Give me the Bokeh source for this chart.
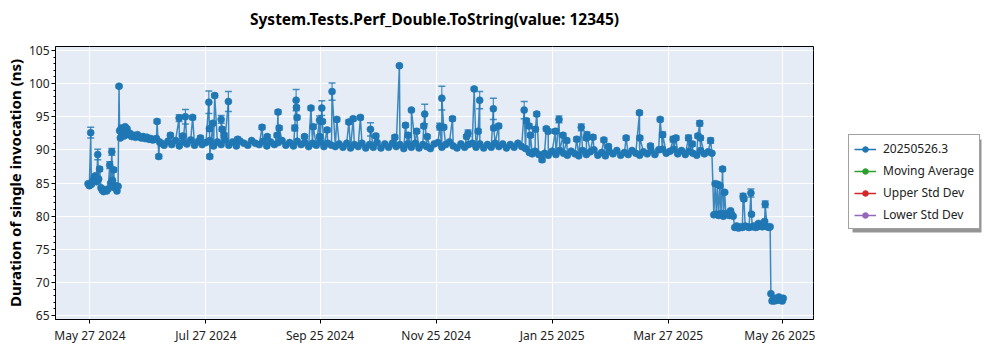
from datetime import datetime
import numpy as np
from bokeh.plotting import figure
from bokeh.layouts import column, row
from bokeh.models import (ColumnDataSource, Range1d, FixedTicker, SingleIntervalTicker,
                          DatetimeTickFormatter, Whisker, TeeHead, Legend, LegendItem, Label)
from bokeh.embed import file_html
from bokeh.resources import INLINE

TITLE = "System.Tests.Perf_Double.ToString(value: 12345)"
Y_LABEL = "Duration of single invocation (ns)"
SERIES = ["20250526.3", "Moving Average", "Upper Std Dev", "Lower Std Dev"]
SERIES_COLORS = ["#1f77b4", "#2ca02c", "#d62728", "#9467bd"]
START_DATE = "2024-05-27"   # day 0 of the day offsets below
X_TICK_DATES = ["2024-05-27", "2024-07-27", "2024-09-25", "2024-11-25",
                "2025-01-25", "2025-03-27", "2025-05-26"]

# ---- baseline runs (day offset from START_DATE, ns) ----
base_days = [
    -1.0, -0.3, 0.8, 1.5, 2.2, 2.9, 3.5, 4.6, 5.8, 6.5,
    7.2, 8.0, 8.8, 9.6, 10.9, 11.9, 12.9, 13.6, 14.2, 14.8,
    15.6, 16.0, 16.5, 17.0, 17.5, 18.0, 18.5, 19.0, 19.5, 20.3,
    21.0, 22.0, 23.0, 24.0, 25.0, 26.0, 27.0, 28.0, 29.0, 30.0,
    31.0, 32.0, 33.0, 34.0, 35.0, 36.6, 37.5,
    39, 41, 43, 45, 47, 49, 51, 53, 55, 57,
    59, 61, 63, 65, 67, 69, 71, 73, 75, 77,
    79, 81, 83, 85, 87, 89, 91, 93, 95, 97,
    99, 101, 103, 105, 107, 109, 111, 113, 115, 117,
    119, 121, 123, 125, 127,
    129, 131, 133, 135, 137, 139, 141, 143, 145, 147,
    149, 151, 153, 155, 157, 159, 161, 163, 165, 167,
    169, 171, 173, 175, 177, 179, 181, 183, 185, 187,
    189, 191, 193, 195, 197, 199, 201, 203, 205, 207,
    209, 211, 213, 215, 217, 219, 221, 223, 225, 227,
    229, 231, 232.5, 234, 236, 239,
    241, 243, 245, 247, 249, 251, 253, 255, 257, 259,
    261, 263, 265, 267, 269, 271, 273, 275, 277, 279,
    281, 283, 285, 287, 289, 291, 293, 295, 297, 299,
    301, 303, 305, 307, 309, 311, 313, 315, 317, 319,
    321, 323, 325, 327,
    328.0, 329.3, 330.5, 331.8, 333.0, 334.3, 335.3, 336.3, 337.3, 338.2,
    339.0, 340.0, 341.0, 342.0, 343.0, 344.5, 345.5, 346.5, 348.2, 349.0,
    350.0, 351.0, 352.5, 353.5, 354.3, 356.0, 357.0, 357.6,
    358.0, 358.6, 359.2, 359.8, 360.4, 361.0, 361.6, 362.2, 362.8, 363.4,
    364.0, 364.5,
]
base_vals = [
    84.9, 84.6, 84.8, 85.3, 85.9, 86.1, 85.2, 85.6, 84.3, 83.9,
    83.7, 84.0, 83.8, 84.1, 85.0, 85.4, 84.3, 84.6, 83.8, 84.5,
    92.9, 91.8, 93.3, 92.4, 93.0, 92.1, 93.5, 92.6, 93.2, 92.3,
    92.5, 92.0, 92.2, 91.9, 92.3, 92.0, 91.8, 92.0, 91.7, 91.9,
    91.6, 91.7, 91.5, 91.6, 91.7, 91.2, 91.0,
    90.7, 91.3, 90.8, 91.4, 90.6, 91.2, 90.9, 91.5, 90.7, 91.3,
    90.8, 91.1, 91.4, 90.6, 91.2, 90.8, 91.5, 90.7, 91.2, 90.6,
    91.3, 91.0, 90.7, 91.4, 91.0, 90.8, 91.3, 90.6, 91.2, 90.8,
    91.1, 91.4, 90.7, 91.1, 90.6, 91.3, 90.8, 91.1, 90.5, 91.0,
    90.7, 91.2, 90.5, 91.0, 90.7,
    90.5, 90.9, 90.4, 91.0, 90.3, 90.8, 90.5, 91.0, 90.3, 90.8,
    90.4, 91.1, 90.3, 90.9, 90.4, 91.0, 90.5, 90.8, 90.2, 90.9,
    90.4, 91.0, 90.3, 90.8, 90.5, 90.2, 90.9, 91.1, 90.4, 90.8,
    91.2, 90.6, 90.3, 90.9, 90.4, 90.8, 91.0, 90.4, 90.9, 90.3,
    90.8, 90.4, 91.0, 90.5, 90.9, 90.3, 90.8, 90.4, 91.0, 90.5,
    90.2, 89.6, 89.4, 89.8, 89.3, 89.5,
    89.2, 89.8, 89.3, 89.9, 89.5, 89.2, 89.8, 89.4, 89.1, 89.9,
    89.3, 89.7, 90.0, 89.2, 89.6, 89.1, 89.8, 89.4, 89.9, 89.2,
    89.6, 89.3, 89.9, 89.5, 89.2, 89.7, 89.4, 89.9, 89.3, 90.0,
    90.1, 89.5, 89.8, 90.1, 89.4, 89.9, 89.3, 89.8, 89.5, 89.2,
    89.9, 89.4, 89.7, 89.5,
    80.2, 80.3, 80.1, 80.4, 80.0, 80.4, 80.2, 80.1, 80.3, 80.0,
    78.3, 78.5, 78.2, 78.4, 78.3, 78.5, 78.4, 78.3, 78.4, 78.5,
    78.3, 78.4, 78.6, 78.4, 78.5, 78.4, 78.3, 78.4,
    68.3, 67.2, 67.5, 67.2, 67.6, 67.3, 67.4, 67.8, 67.3, 67.5,
    67.2, 67.6,
]

# ---- outlier runs with visible error bars ----
spike_days = [
    0.4, 4.1, 5.1, 10.4, 11.5, 12.5, 15.3, 35.3, 36.2,
    42.3, 46.9, 48.8, 50.2, 54.0, 58.1, 62.5, 62.8, 63.0, 64.6,
    65.6, 69.0, 69.5, 70.6, 72.8, 77.7, 90.5, 93.2, 98.4, 98.9,
    99.5, 107.7, 108.4, 108.6, 108.9, 112.8, 116.2, 117.4, 120.7, 120.8,
    121.9, 122.2, 124.7,
    127.3, 129.8, 136.1, 138.4, 142.2, 147.5, 150.3, 160.3, 162.7, 165.9,
    167.3, 169.0, 171.8, 175.5, 176.0, 177.3, 183.9, 185.0, 186.0, 190.6,
    198.0, 198.8, 202.0, 204.1, 204.9, 212.1, 212.3, 214.9, 228.3, 229.5,
    230.9, 231.6, 234.2, 234.9, 237.7,
    239.9, 240.9, 244.7, 246.6, 248.7, 250.7, 255.9, 258.3, 261.0, 261.3,
    264.5, 270.2, 272.6, 281.9, 288.9, 289.1, 294.7, 299.8, 301.1, 306.6,
    308.1, 314.7, 316.7, 319.6, 320.6, 321.0, 326.3,
    328.7, 329.9, 331.2, 332.6, 333.7, 336.8, 343.4, 343.8, 347.5, 347.8,
    351.5, 354.7, 355.0,
]
spike_vals = [
    92.6, 89.3, 87.1, 87.7, 89.7, 87.0, 99.6, 94.3, 89.0,
    92.2, 94.8, 92.1, 95.0, 94.9, 91.8, 97.2, 93.2, 89.0, 94.0,
    98.2, 94.6, 93.1, 92.2, 97.3, 91.6, 93.4, 92.0, 92.2, 95.7,
    93.3, 93.3, 97.5, 96.4, 94.9, 92.0, 96.3, 93.5, 94.5, 92.0,
    96.3, 94.3, 93.0,
    98.8, 94.6, 94.2, 94.7, 94.9, 93.1, 92.1, 91.9, 102.7, 93.7,
    92.2, 96.0, 92.8, 93.6, 95.4, 92.0, 93.5, 97.8, 93.4, 94.7,
    92.0, 92.5, 99.2, 92.8, 97.5, 96.2, 93.3, 93.6, 96.0, 94.4,
    93.6, 92.2, 93.1, 95.4, 88.5,
    93.2, 92.8, 92.8, 94.6, 92.2, 91.4, 91.6, 93.4, 91.8, 92.3,
    91.9, 91.5, 90.5, 91.8, 95.6, 91.8, 90.6, 94.6, 92.3, 91.6,
    91.8, 91.8, 90.9, 92.1, 94.0, 91.8, 91.4,
    84.9, 84.8, 84.6, 87.1, 83.6, 80.8, 83.0, 82.6, 83.5, 80.3,
    78.9, 79.2, 81.8,
]
spike_errs = [
    0.8, 0.8, 0.3, 0.5, 0.5, 0.3, 0.2, 0.3, 0.3,
    0.3, 0.5, 0.3, 1.1, 0.3, 0.3, 1.7, 0.3, 0.3, 0.3,
    0.3, 0.6, 0.3, 0.3, 1.5, 0.3, 0.3, 0.3, 0.3, 0.3,
    0.3, 0.4, 1.6, 0.3, 0.3, 0.3, 0.3, 0.3, 0.6, 0.3,
    1.1, 0.3, 0.3,
    1.3, 0.3, 0.3, 0.3, 0.3, 1.0, 0.3, 0.3, 0.2, 0.3,
    0.3, 0.2, 0.3, 0.3, 1.5, 0.3, 0.5, 1.8, 0.3, 0.3,
    0.3, 0.5, 0.2, 0.3, 1.3, 1.6, 0.3, 0.3, 1.3, 0.3,
    0.3, 0.3, 0.3, 0.3, 0.3,
    0.3, 0.3, 0.3, 0.5, 0.3, 0.3, 0.3, 0.5, 0.3, 0.4,
    0.3, 0.3, 0.3, 0.3, 0.3, 0.3, 0.3, 0.3, 0.4, 0.4,
    0.3, 0.4, 0.3, 0.3, 0.4, 0.3, 0.4,
    0.2, 0.3, 0.2, 0.3, 0.2, 0.2, 0.4, 0.3, 0.6, 0.2,
    0.2, 0.2, 0.5,
]

X_MIN_DAY, X_MAX_DAY = -18.1, 380.4
Y_MIN, Y_MAX = 64.4, 105.6

assert len(base_days) == len(base_vals)
assert len(spike_days) == len(spike_vals) == len(spike_errs)

EPOCH = datetime(1970, 1, 1)
START = datetime.strptime(START_DATE, "%Y-%m-%d")


def to_ms(day):
    return ((START - EPOCH).total_seconds() + day * 86400.0) * 1000.0


def date_ms(s):
    return (datetime.strptime(s, "%Y-%m-%d") - EPOCH).total_seconds() * 1000.0


FONT = "Noto Sans"
C0 = SERIES_COLORS[0]

# layout (pixels)
LEFT, FRAME_W, RIGHT = 55, 758, 2
TITLE_H, TOP, FRAME_H, BOTTOM = 32, 14, 273, 31
MAIN_W = LEFT + FRAME_W + RIGHT
MAIN_H = TOP + FRAME_H + BOTTOM
TOTAL_H = TITLE_H + MAIN_H
LEG_W = 1000 - MAIN_W

# legend box (page pixels) and its drop shadow offset
BOX_LEFT, BOX_BOTTOM, BOX_W, BOX_H = 848, 229, 129, 93
SHADOW_DX, SHADOW_DY = 4, 3


def bare_figure(w, h, xr, yr):
    f = figure(width=w, height=h, x_range=xr, y_range=yr, output_backend="svg",
               toolbar_location=None, x_axis_location=None, y_axis_location=None,
               min_border=0)
    f.grid.visible = False
    f.outline_line_color = None
    f.background_fill_color = "white"
    f.border_fill_color = "white"
    return f


# ---- title strip (its frame is aligned with the main frame by the column) ----
tf = bare_figure(MAIN_W, TITLE_H, Range1d(LEFT, LEFT + FRAME_W), Range1d(TITLE_H, 0))
tf.add_layout(Label(x=LEFT + FRAME_W / 2, y=18, text=TITLE, text_align="center",
                    text_baseline="middle", text_font=FONT, text_font_size="15.5px",
                    text_font_style="bold", text_color="black"))

# ---- main plot ----
p = figure(width=MAIN_W, height=MAIN_H, frame_width=FRAME_W, frame_height=FRAME_H,
           x_axis_type="datetime", output_backend="svg", toolbar_location=None,
           x_range=Range1d(to_ms(X_MIN_DAY), to_ms(X_MAX_DAY)),
           y_range=Range1d(Y_MIN, Y_MAX),
           min_border_left=LEFT, min_border_right=RIGHT, min_border_top=TOP,
           min_border_bottom=BOTTOM)

p.background_fill_color = "#E5ECF6"
p.border_fill_color = "white"
p.outline_line_color = "black"
p.outline_line_width = 1
p.outline_line_alpha = 1

p.xgrid.grid_line_color = "white"
p.ygrid.grid_line_color = "white"
p.xgrid.grid_line_width = 1
p.ygrid.grid_line_width = 1

p.xaxis.ticker = FixedTicker(ticks=[date_ms(s) for s in X_TICK_DATES], minor_ticks=[])
fmt = "%b %d %Y"
p.xaxis.formatter = DatetimeTickFormatter(milliseconds=fmt, seconds=fmt, minsec=fmt, minutes=fmt,
                                          hourmin=fmt, hours=fmt, days=fmt, months=fmt, years=fmt)
p.yaxis.ticker = SingleIntervalTicker(interval=5, num_minor_ticks=5)

for ax in (p.xaxis[0], p.yaxis[0]):
    ax.axis_line_color = "black"
    ax.major_tick_line_color = "black"
    ax.minor_tick_line_color = "black"
    ax.major_tick_out = 4
    ax.major_tick_in = 0
    ax.minor_tick_out = 2
    ax.minor_tick_in = 0
    ax.major_label_text_font = FONT
    ax.major_label_text_font_size = "12px"
    ax.major_label_text_color = "#222222"
    ax.major_label_standoff = 3
p.xaxis.minor_tick_line_color = None
p.yaxis.major_label_standoff = 2

p.yaxis.axis_label = Y_LABEL
p.yaxis.axis_label_text_font = FONT
p.yaxis.axis_label_text_font_size = "15px"
p.yaxis.axis_label_text_font_style = "bold"
p.yaxis.axis_label_text_color = "black"
p.yaxis.axis_label_standoff = 1

# merge the runs in time order
all_days = base_days + spike_days
all_vals = base_vals + spike_vals
order = np.argsort(np.array(all_days), kind="stable")
src = ColumnDataSource(dict(x=[to_ms(all_days[i]) for i in order],
                            y=[all_vals[i] for i in order]))

p.line("x", "y", source=src, line_color=C0, line_width=1.5, line_alpha=0.85)

err_src = ColumnDataSource(dict(x=[to_ms(d) for d in spike_days],
                                upper=[v + e for v, e in zip(spike_vals, spike_errs)],
                                lower=[v - e for v, e in zip(spike_vals, spike_errs)]))
whisker = Whisker(base="x", upper="upper", lower="lower", source=err_src, dimension="height",
                  line_color=C0, line_alpha=0.8, line_width=1.2,
                  upper_head=TeeHead(size=7, line_color=C0, line_alpha=0.8, line_width=1.5),
                  lower_head=TeeHead(size=7, line_color=C0, line_alpha=0.8, line_width=1.5))
p.add_layout(whisker)

p.scatter("x", "y", source=src, size=7, fill_color=C0, line_color=C0, line_alpha=0.6)

# ---- legend panel (right); data units = panel pixels, y measured from the top ----
lf = bare_figure(LEG_W, TOTAL_H, Range1d(0, LEG_W), Range1d(TOTAL_H, 0))

# drop shadow behind the legend box
lf.quad(left=[BOX_LEFT - MAIN_W + SHADOW_DX], right=[BOX_LEFT - MAIN_W + BOX_W + SHADOW_DX],
        top=[BOX_BOTTOM - BOX_H + SHADOW_DY], bottom=[BOX_BOTTOM + SHADOW_DY],
        fill_color="#8a8a8a", fill_alpha=0.9, line_color=None)

items = []
for name, col in zip(SERIES, SERIES_COLORS):
    # placeholder point outside the visible range: only the legend swatch is drawn
    es = ColumnDataSource(dict(x=[-50.0], y=[-50.0]))
    lr = lf.line("x", "y", source=es, line_color=col, line_width=1.5)
    sr = lf.scatter("x", "y", source=es, size=5, fill_color=col, line_color=col)
    items.append(LegendItem(label=name, renderers=[lr, sr]))

legend = Legend(items=items, location=(BOX_LEFT - MAIN_W, TOTAL_H - BOX_BOTTOM))
legend.label_text_font = FONT
legend.label_text_font_size = "12px"
legend.label_text_color = "#222222"
legend.glyph_width = 22
legend.glyph_height = 14
legend.label_height = 14
legend.spacing = 5
legend.padding = 5
legend.label_standoff = 7
legend.margin = 0
legend.border_line_color = "#444444"
legend.border_line_width = 1
legend.background_fill_color = "white"
legend.background_fill_alpha = 1
lf.add_layout(legend)

layout = row(column(tf, p), lf)
open("out.html", "w").write(file_html(layout, INLINE))
